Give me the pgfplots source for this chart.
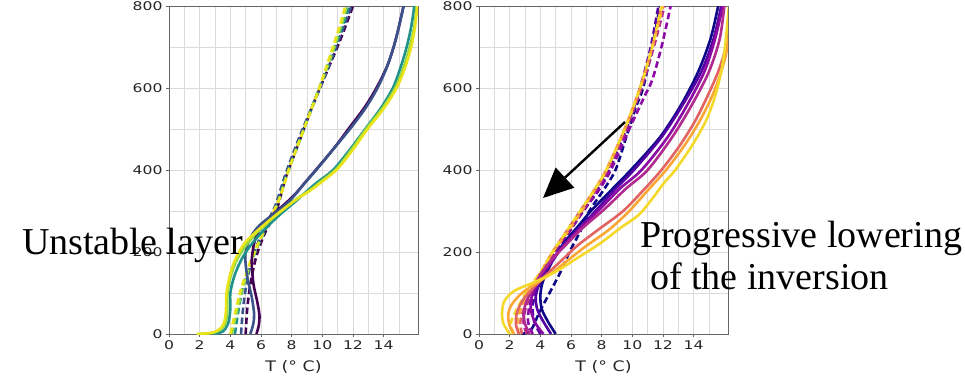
\documentclass[border=0pt]{standalone}
\usepackage{fontspec}
\setmainfont{Liberation Serif}
\newfontfamily\tickfont[FakeStretch=1.3]{DejaVu Sans}
\newfontfamily\labfont[FakeStretch=1.2]{DejaVu Sans}
\usepackage{pgfplots}
\pgfplotsset{compat=1.18}
\usetikzlibrary{arrows.meta}
\definecolor{va}{HTML}{440154}
\definecolor{vb}{HTML}{3B528B}
\definecolor{vc}{HTML}{21918C}
\definecolor{vd}{HTML}{8FD744}
\definecolor{ve}{HTML}{E8E419}
\definecolor{pa}{HTML}{0D0887}
\definecolor{pb}{HTML}{5302A3}
\definecolor{pc}{HTML}{8B0AA5}
\definecolor{pd}{HTML}{B12A90}
\definecolor{pe}{HTML}{E16462}
\definecolor{pf}{HTML}{FCA636}
\definecolor{pg}{HTML}{F5D92A}
\pgfplotsset{tp/.style={
  scale only axis, width=249pt, height=328pt,
  xmin=0, xmax=16.24, ymin=0, ymax=800,
  xtick={0,2,...,14}, ytick={0,200,...,800},
  minor xtick={1,3,...,15}, minor ytick={100,300,500,700},
  grid=both,
  grid style={draw=black!14, line width=0.6pt},
  minor grid style={draw=black!14, line width=0.6pt},
  axis line style={draw=black!60, line width=0.8pt},
  tick align=outside, major tick length=3pt, minor tick length=0pt,
  xtick pos=left, ytick pos=left,
  tick style={draw=black!60, line width=0.7pt},
  tick label style={font=\tickfont\fontsize{12}{12}\selectfont, text=black!85},
  /pgf/number format/assume math mode=true,
  xlabel={T (° C)},
  xlabel style={font=\labfont\fontsize{14.5}{15}\selectfont, text=black!85,
    at={(axis description cs:0.5,0)}, anchor=base, yshift=-37.7pt},
  every axis plot/.append style={line width=2.6pt, smooth, tension=0.5, no markers},
}}
\tikzset{dsh/.style={dash pattern=on 6.5pt off 3.5pt}}
\begin{document}
\begin{tikzpicture}
\useasboundingbox (0pt,0pt) rectangle (965pt,383pt);
% ---------------- left panel ----------------
\begin{axis}[tp, at={(169pt,49pt)}, anchor=south west]
% dashed
\addplot[va,dsh] coordinates {(5.0,0)(5.1,60)(5.3,120)(5.7,190)(6.3,250)(7.0,300)(7.6,380)(8.4,460)(9.3,550)(10.3,640)(11.2,720)(12.0,800)};
\addplot[vb,dsh] coordinates {(4.7,0)(4.8,50)(5.0,110)(5.4,180)(6.1,250)(6.9,310)(7.6,390)(8.5,480)(9.5,570)(10.5,660)(11.3,740)(11.9,800)};
\addplot[vc,dsh] coordinates {(4.3,0)(4.5,50)(4.8,110)(5.3,170)(6.1,240)(7.0,310)(7.7,390)(8.6,480)(9.6,580)(10.6,680)(11.4,760)(11.7,800)};
\addplot[vd,dsh] coordinates {(4.1,0)(4.4,50)(4.8,110)(5.4,180)(6.2,250)(7.1,320)(7.8,400)(8.7,490)(9.7,590)(10.6,680)(11.3,760)(11.6,800)};
\addplot[ve,dsh] coordinates {(4.0,0)(4.3,50)(4.7,110)(5.4,185)(6.3,260)(7.2,330)(7.9,410)(8.8,500)(9.7,590)(10.6,690)(11.2,760)(11.5,800)};
% solid
\addplot[va] coordinates {(5.7,0)(5.85,20)(5.9,45)(5.75,80)(5.5,124)(5.4,180)(5.6,229)(6.0,260)(6.6,286)(7.4,312)(8.2,340)(9.0,375)(9.8,410)(10.8,455)(11.8,505)(12.8,555)(13.6,605)(14.3,660)(14.8,720)(15.3,800)};
\addplot[vb] coordinates {(5.3,0)(5.5,25)(5.55,50)(5.4,90)(5.15,130)(5.0,170)(5.0,200)(5.3,235)(5.9,265)(6.8,292)(7.8,322)(8.85,368)(9.6,400)(10.7,450)(11.8,500)(12.8,550)(13.6,600)(14.2,650)(14.65,700)(15.0,750)(15.3,800)};
\addplot[vc] coordinates {(2.9,0)(3.5,6)(3.85,25)(4.0,60)(4.0,100)(4.25,140)(4.7,180)(5.3,215)(6.1,250)(7.2,290)(8.3,325)(9.5,365)(10.7,400)(11.8,450)(12.8,500)(13.8,550)(14.6,600)(15.1,650)(15.5,700)(15.8,750)(16.0,800)};
\addplot[vd] coordinates {(1.9,0)(3.0,4)(3.6,20)(3.8,50)(3.8,90)(3.95,130)(4.35,175)(5.0,215)(5.8,250)(7.0,290)(8.3,329)(9.1,348)(10.0,375)(10.9,402)(11.9,450)(12.85,500)(13.9,550)(14.75,600)(15.3,650)(15.7,700)(16.0,750)(16.15,800)};
\addplot[ve] coordinates {(1.8,0)(2.9,4)(3.5,20)(3.7,50)(3.75,100)(3.95,140)(4.3,180)(4.9,220)(5.7,250)(6.8,285)(8.3,328)(9.2,350)(10.0,372)(11.0,403)(12.0,450)(12.95,500)(14.0,550)(14.85,600)(15.4,650)(15.8,700)(16.05,750)(16.2,800)};
\end{axis}
% ---------------- right panel ----------------
\begin{axis}[tp, at={(479pt,49pt)}, anchor=south west]
% dashed
\addplot[pa,dsh] coordinates {(2.8,0)(3.4,10)(3.9,50)(4.6,100)(5.3,150)(5.9,200)(6.6,250)(7.2,300)(8.1,350)(8.9,400)(9.6,480)(10.2,550)(10.7,600)(11.3,700)(11.8,800)};
\addplot[pb,dsh] coordinates {(4.0,0)(3.6,30)(3.5,70)(3.8,110)(4.4,150)(5.1,200)(5.9,250)(6.8,300)(7.7,350)(8.5,400)(9.6,500)(10.5,600)(11.2,700)(11.7,800)};
\addplot[pc,dsh] coordinates {(3.5,0)(3.2,30)(3.3,70)(3.7,110)(4.3,150)(5.0,200)(5.9,250)(6.8,300)(7.8,350)(8.6,400)(9.8,500)(10.8,580)(11.3,620)(11.9,700)(12.5,800)};
\addplot[pd,dsh] coordinates {(3.1,0)(2.9,30)(3.1,70)(3.6,110)(4.2,150)(4.9,200)(5.8,250)(6.7,300)(7.6,350)(8.4,400)(9.6,500)(10.6,600)(11.4,700)(12.1,800)};
\addplot[pe,dsh] coordinates {(2.8,0)(2.7,30)(3.0,70)(3.5,110)(4.1,150)(4.8,200)(5.7,250)(6.6,300)(7.5,350)(8.3,400)(9.5,500)(10.5,600)(11.3,700)(11.9,800)};
\addplot[pf,dsh] coordinates {(2.6,0)(2.5,30)(2.8,70)(3.3,110)(4.0,150)(4.8,200)(5.8,250)(6.7,300)(7.5,350)(8.3,400)(9.5,500)(10.5,600)(11.3,700)(12.0,800)};
\addplot[pg,dsh] coordinates {(2.2,0)(2.1,30)(2.6,70)(3.2,110)(4.0,150)(4.8,200)(5.7,250)(6.6,300)(7.5,350)(8.3,400)(9.5,500)(10.5,600)(11.3,700)(11.9,800)};
% solid
\addplot[pa] coordinates {(5.0,0)(4.5,30)(4.1,60)(4.0,90)(4.1,120)(4.4,150)(4.9,185)(5.6,225)(6.4,260)(7.3,300)(8.6,350)(9.9,400)(11.8,480)(13.2,560)(14.3,640)(15.1,720)(15.6,800)};
\addplot[pb] coordinates {(4.7,0)(4.2,30)(3.8,60)(3.7,90)(3.9,120)(4.3,150)(4.9,185)(5.6,220)(6.6,260)(7.6,300)(8.8,350)(10.1,400)(11.9,480)(13.3,560)(14.5,640)(15.3,720)(15.8,800)};
\addplot[pc] coordinates {(4.2,0)(3.7,25)(3.4,55)(3.4,85)(3.7,115)(4.1,145)(4.8,180)(5.5,215)(6.5,255)(7.9,305)(9.2,355)(10.6,400)(12.3,480)(13.6,560)(14.7,640)(15.4,720)(15.9,800)};
\addplot[pd] coordinates {(3.3,0)(3.0,25)(2.9,50)(3.1,80)(3.5,110)(4.0,145)(4.7,180)(5.6,215)(6.8,260)(8.2,305)(9.6,355)(11.0,400)(12.6,480)(13.9,560)(15.0,640)(15.7,720)(16.0,800)};
\addplot[pe] coordinates {(2.6,0)(2.4,25)(2.5,55)(2.9,85)(3.6,115)(4.4,145)(5.4,180)(6.4,215)(7.8,255)(9.4,300)(10.7,350)(11.9,400)(13.1,460)(14.1,520)(14.9,580)(15.6,640)(16.1,700)(16.6,800)};
\addplot[pf] coordinates {(2.3,0)(2.0,20)(1.9,45)(2.1,70)(2.8,100)(3.8,125)(4.8,150)(5.8,180)(7.0,215)(8.5,255)(9.8,300)(11.0,350)(12.2,400)(13.4,460)(14.4,520)(15.2,580)(15.8,640)(16.2,700)(16.5,800)};
\addplot[pg] coordinates {(2.0,0)(1.6,25)(1.5,50)(1.65,80)(2.3,105)(3.7,128)(5.0,152)(6.4,185)(7.9,221)(9.2,258)(10.4,290)(11.3,330)(12.1,370)(12.8,400)(13.9,460)(14.8,520)(15.4,580)(15.85,650)(16.1,720)(16.3,800)};
\end{axis}
% annotations
\draw[-{Triangle[length=30pt,width=27pt]}, line width=2.4pt] (625pt,261pt) -- (543pt,185pt);
\node[anchor=base west, inner sep=0pt, font=\fontsize{38}{42}\selectfont] at (22pt,129pt) {Unstable layer};
\node[anchor=base west, inner sep=0pt, font=\fontsize{38}{42}\selectfont] at (640pt,136pt) {Progressive lowering};
\node[anchor=base west, inner sep=0pt, font=\fontsize{38}{42}\selectfont] at (650pt,94pt) {of the inversion};
\end{tikzpicture}
\end{document}
